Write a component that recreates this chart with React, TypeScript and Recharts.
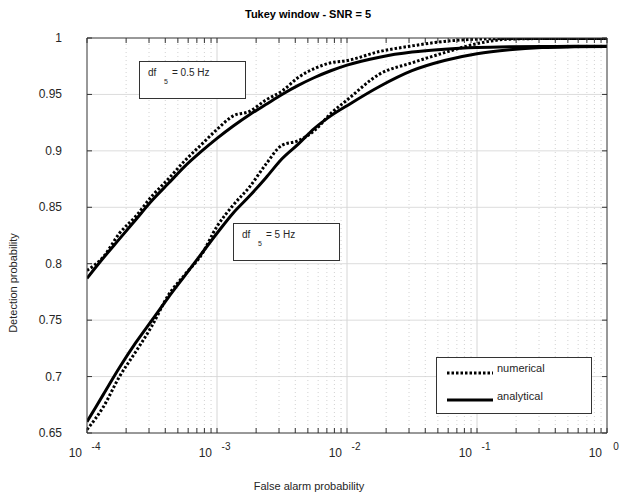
import React from 'react';
import { LineChart, Line, XAxis, YAxis, ReferenceLine, Legend } from 'recharts';

// log10 of false alarm probability where curves were read
const exps = [
  -4, -3.875, -3.75, -3.625, -3.5, -3.375, -3.25, -3.125, -3, -2.875, -2.75, -2.625, -2.5,
  -2.375, -2.25, -2.125, -2, -1.75, -1.5, -1.25, -1, -0.75, -0.5, -0.25, 0,
];

// df = 0.5 Hz
const numericalA = [
  0.794, 0.806, 0.827, 0.842, 0.86, 0.875, 0.891, 0.905, 0.919, 0.931, 0.935, 0.945, 0.953,
  0.965, 0.973, 0.978, 0.98, 0.988, 0.993, 0.997, 0.999, 0.9995, 0.9995, 0.9995, 0.9995,
];
const analyticalA = [
  0.787, 0.805, 0.822, 0.839, 0.856, 0.871, 0.886, 0.899, 0.911, 0.922, 0.932, 0.941, 0.95,
  0.958, 0.965, 0.971, 0.976, 0.983, 0.9875, 0.99, 0.9915, 0.9922, 0.9925, 0.9926, 0.9926,
];

// df = 5 Hz
const numericalB = [
  0.653, 0.673, 0.7, 0.722, 0.745, 0.772, 0.79, 0.807, 0.833, 0.852, 0.868, 0.888, 0.905,
  0.909, 0.918, 0.933, 0.945, 0.968, 0.978, 0.987, 0.995, 0.999, 0.9995, 0.9995, 0.9995,
];
const analyticalB = [
  0.66, 0.684, 0.708, 0.73, 0.75, 0.77, 0.789, 0.808, 0.827, 0.845, 0.86, 0.876, 0.893,
  0.906, 0.92, 0.931, 0.94, 0.957, 0.971, 0.98, 0.986, 0.9895, 0.9915, 0.9922, 0.9925,
];

const decades = [-4, -3, -2, -1, 0];
const decadeLabels = ['-4', '-3', '-2', '-1', '0'];
const minorSteps = [2, 3, 4, 5, 6, 7, 8, 9];
const yTicks = [0.65, 0.7, 0.75, 0.8, 0.85, 0.9, 0.95, 1];
const yTickLabels = ['0.65', '0.7', '0.75', '0.8', '0.85', '0.9', '0.95', '1'];

const majorTicks = decades.map((d) => 10 ** d);
const minorTicks = decades.slice(0, -1).flatMap((d) => minorSteps.map((m) => m * 10 ** d));
const xTicks = [...majorTicks, ...minorTicks].sort((a, b) => a - b);

const data = exps.map((e, i) => ({
  x: 10 ** e,
  numA: numericalA[i],
  anaA: analyticalA[i],
  numB: numericalB[i],
  anaB: analyticalB[i],
}));

const FONT = '"Liberation Sans", Arial, Helvetica, sans-serif';
const AXIS = '#333';
const TEXT = '#262626';
const DOTS = '2.5 2';

const majorIndex = (v: number) => majorTicks.findIndex((m) => Math.abs(m - v) / m < 1e-6);

// tick props: with tickSize/tickMargin 0 the (x, y) sits on the axis line
const BottomTick = (props: any) => {
  const { x, y, payload } = props;
  const idx = majorIndex(payload.value);
  return (
    <g>
      <line x1={x} y1={y} x2={x} y2={y - 5} stroke={AXIS} />
      {idx >= 0 && (
        <g fontFamily={FONT} fill={TEXT}>
          <text x={x - 5} y={y + 24} textAnchor="end" fontSize={12}>10</text>
          <text x={x + 9} y={y + 17} textAnchor="middle" fontSize={10}>{decadeLabels[idx]}</text>
        </g>
      )}
    </g>
  );
};

const TopTick = (props: any) => {
  const { x, y } = props;
  return <line x1={x} y1={y} x2={x} y2={y + 5} stroke={AXIS} />;
};

const LeftTick = (props: any) => {
  const { x, y, index } = props;
  return (
    <g>
      <line x1={x} y1={y} x2={x + 5} y2={y} stroke={AXIS} />
      <text x={x - 25} y={y + 4} textAnchor="end" fontSize={12} fontFamily={FONT} fill={TEXT}>
        {yTickLabels[index]}
      </text>
    </g>
  );
};

const RightTick = (props: any) => {
  const { x, y } = props;
  return <line x1={x} y1={y} x2={x - 5} y2={y} stroke={AXIS} />;
};

const renderLegend = () => (
  <div style={{ width: 156, height: 57, boxSizing: 'border-box', border: `1px solid ${AXIS}`, background: '#fff' }}>
    <svg width={154} height={55} style={{ display: 'block' }}>
      <line x1={10} y1={15} x2={56} y2={15} stroke="#000" strokeWidth={3} strokeDasharray={DOTS} />
      <text x={60} y={14} fontSize={11} fontFamily={FONT} fill={TEXT}>numerical</text>
      <line x1={10} y1={42} x2={56} y2={42} stroke="#000" strokeWidth={3} />
      <text x={60} y={42} fontSize={11} fontFamily={FONT} fill={TEXT}>analytical</text>
    </svg>
  </div>
);

const boxStyle: React.CSSProperties = {
  position: 'absolute',
  boxSizing: 'border-box',
  border: `1px solid ${AXIS}`,
  background: '#fff',
  fontFamily: FONT,
  color: TEXT,
  fontSize: 10,
};

const Annotation = ({ left, top, value }: { left: number; top: number; value: string }) => (
  <div style={{ ...boxStyle, left, top, width: 107, height: 38 }}>
    <span style={{ position: 'absolute', left: 8, top: 5 }}>df</span>
    <span style={{ position: 'absolute', left: 24, top: 16, fontSize: 7 }}>5</span>
    <span style={{ position: 'absolute', left: 32, top: 5 }}>{value}</span>
  </div>
);

export default function App() {
  return (
    <div style={{ position: 'absolute', left: 0, top: 0, width: 621, height: 493, background: '#fff' }}>
      <LineChart width={621} height={493} data={data} margin={{ top: 28, right: 4, bottom: 30, left: 47 }}>
        <XAxis
          dataKey="x"
          type="number"
          scale="log"
          domain={[1e-4, 1]}
          allowDataOverflow
          ticks={xTicks}
          interval={0}
          height={30}
          tickSize={0}
          tickMargin={0}
          tickLine={false}
          tick={BottomTick}
          axisLine={{ stroke: AXIS }}
        />
        <XAxis
          xAxisId="top"
          orientation="top"
          dataKey="x"
          type="number"
          scale="log"
          domain={[1e-4, 1]}
          allowDataOverflow
          ticks={xTicks}
          interval={0}
          height={10}
          tickSize={0}
          tickMargin={0}
          tickLine={false}
          tick={TopTick}
          axisLine={{ stroke: AXIS }}
        />
        <YAxis
          type="number"
          domain={[0.65, 1]}
          allowDataOverflow
          ticks={yTicks}
          interval={0}
          width={40}
          tickSize={0}
          tickMargin={0}
          tickLine={false}
          tick={LeftTick}
          axisLine={{ stroke: AXIS }}
        />
        <YAxis
          yAxisId="right"
          orientation="right"
          type="number"
          domain={[0.65, 1]}
          allowDataOverflow
          ticks={yTicks}
          interval={0}
          width={10}
          tickSize={0}
          tickMargin={0}
          tickLine={false}
          tick={RightTick}
          axisLine={{ stroke: AXIS }}
        />

        {yTicks.slice(1, -1).map((v) => (
          <ReferenceLine key={`h${v}`} y={v} stroke="#dcdcdc" />
        ))}
        {minorTicks.map((v) => (
          <ReferenceLine key={`m${v}`} x={v} stroke="#d2d2d2" strokeDasharray="1 3" />
        ))}
        {majorTicks.slice(1, -1).map((v) => (
          <ReferenceLine key={`M${v}`} x={v} stroke="#d6d6d6" />
        ))}

        <Line dataKey="anaA" type="monotone" stroke="#000" strokeWidth={3} dot={false} isAnimationActive={false} />
        <Line dataKey="anaB" type="monotone" stroke="#000" strokeWidth={3} dot={false} isAnimationActive={false} />
        <Line dataKey="numA" type="monotone" stroke="#000" strokeWidth={3} strokeDasharray={DOTS} dot={false} isAnimationActive={false} />
        <Line dataKey="numB" type="monotone" stroke="#000" strokeWidth={3} strokeDasharray={DOTS} dot={false} isAnimationActive={false} />

        <Legend
          layout="vertical"
          align="center"
          verticalAlign="middle"
          content={renderLegend}
          wrapperStyle={{ position: 'absolute', left: 436, top: 357, width: 156, height: 57 }}
        />
      </LineChart>

      <Annotation left={139} top={61} value="= 0.5 Hz" />
      <Annotation left={233} top={223} value="= 5 Hz" />

      <div style={{ position: 'absolute', left: 208, top: 8, width: 200, textAlign: 'center', fontFamily: FONT, fontWeight: 'bold', fontSize: 11, color: '#000' }}>
        Tukey window - SNR = 5
      </div>
      <div style={{ position: 'absolute', left: 209, top: 480, width: 200, textAlign: 'center', fontFamily: FONT, fontSize: 11, color: TEXT }}>
        False alarm probability
      </div>
      <div
        style={{
          position: 'absolute',
          left: 13 - 100,
          top: 283 - 7,
          width: 200,
          height: 14,
          lineHeight: '14px',
          textAlign: 'center',
          transform: 'rotate(-90deg)',
          fontFamily: FONT,
          fontSize: 11,
          color: TEXT,
        }}
      >
        Detection probability
      </div>
    </div>
  );
}
